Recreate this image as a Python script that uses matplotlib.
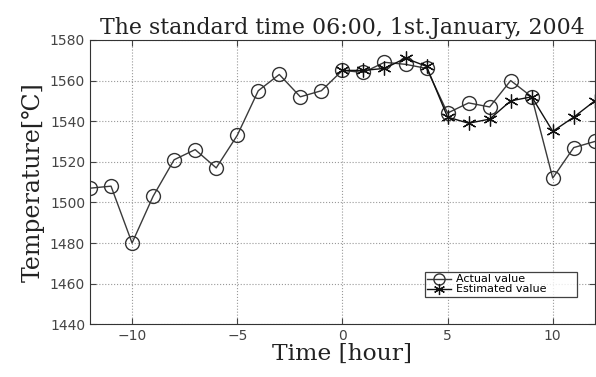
import numpy as np
import matplotlib
matplotlib.use('Agg')
import matplotlib.pyplot as plt

# hours relative to the standard time
hours_act = np.arange(-12, 13)
actual = [1507, 1508, 1480, 1503, 1521, 1526, 1517, 1533, 1555, 1563, 1552, 1555,
          1565, 1564, 1569, 1568, 1566, 1544, 1549, 1547, 1560, 1552, 1512, 1527, 1530]
hours_est = np.arange(0, 13)
estimated = [1565, 1565, 1566, 1571, 1567, 1542, 1539, 1541, 1550, 1552, 1535, 1542, 1550]

xticks = [-10, -5, 0, 5, 10]
yticks = [1440, 1460, 1480, 1500, 1520, 1540, 1560, 1580]

serif = ['DejaVu Serif']

fig = plt.figure(figsize=(5.96, 3.77), dpi=100)
ax = fig.add_axes([0.151, 0.140, 0.847, 0.754])

ax.plot(hours_act, actual, color='#3a3a3a', lw=1.0, marker='o', ms=10,
        mfc='none', mec='#333333', mew=1.0, label='Actual value        ')
ax.plot(hours_est, estimated, color='#111111', lw=1.0, marker=(6, 2, 0), ms=10,
        mec='#111111', mew=0.9, label='Estimated value        ')

ax.set_xlim(-12, 12)
ax.set_ylim(1440, 1580)
ax.set_xticks(xticks)
ax.set_yticks(yticks)
ax.set_xticklabels(['\u221210', '\u22125', '0', '5', '10'])
ax.tick_params(direction='in', labelsize=10, colors='#444444', length=4, right=True, top=True)
ax.grid(True, linestyle=':', color='#999999', lw=0.8)
for s in ax.spines.values():
    s.set_color('#333333')

ax.set_title('The standard time 06:00, 1st.January, 2004', family=serif, fontsize=15.8, pad=4,
             color='#222222')
ax.set_xlabel('Time [hour]', family=serif, fontsize=16.8, labelpad=0, color='#222222')
ax.set_ylabel('Temperature[\u2103]', family=serif, fontsize=17, labelpad=4, color='#222222')

leg = ax.legend(loc='lower right', bbox_to_anchor=(0.964, 0.097), fontsize=8, frameon=True,
                fancybox=False, edgecolor='#111111', borderpad=0.2, labelspacing=0.0,
                handlelength=2.2, handletextpad=0.4, borderaxespad=0.0, markerscale=0.8)
leg.get_frame().set_linewidth(0.9)

fig.savefig('out.png', dpi=100)
